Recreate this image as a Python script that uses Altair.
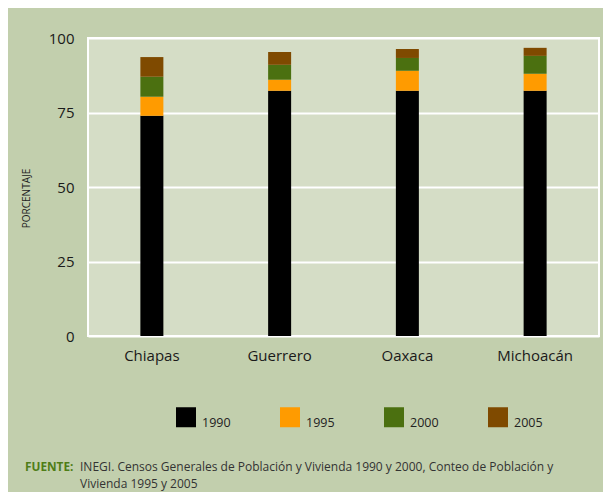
import altair as alt
import pandas as pd

states = ["Chiapas", "Guerrero", "Oaxaca", "Michoacán"]
years = ["1990", "1995", "2000", "2005"]
v1990 = [73.9, 82.3, 82.3, 82.3]
v1995 = [6.4, 3.7, 6.7, 5.7]
v2000 = [6.7, 5.0, 4.3, 6.0]
v2005 = [6.6, 4.3, 3.0, 2.7]
colors = ["#000000", "#ff9b00", "#4b7010", "#7f4a00"]

rows = []
for i, s in enumerate(states):
    for k, (y, vals) in enumerate(zip(years, [v1990, v1995, v2000, v2005])):
        rows.append({"estado": s, "anio": y, "valor": vals[i], "orden": k})
df = pd.DataFrame(rows)

FONT = "Open Sans"

bars = alt.Chart(df).mark_bar(size=23).encode(
    x=alt.X("estado:N", sort=states, title=None,
            scale=alt.Scale(paddingInner=0, paddingOuter=0),
            axis=alt.Axis(labelAngle=0, ticks=False, tickSize=0, domain=False,
                          labelPadding=12, labelFontSize=15, labelFont=FONT,
                          labelColor="#1a1a1a", grid=False)),
    y=alt.Y("valor:Q", title="PORCENTAJE", stack="zero",
            scale=alt.Scale(domain=[0, 100], nice=False),
            axis=alt.Axis(values=[0, 25, 50, 75, 100], ticks=False, tickSize=0,
                          domain=False, labelPadding=14, labelFontSize=15,
                          labelFont=FONT, labelColor="#1a1a1a",
                          grid=True, gridColor="white", gridWidth=2, gridOpacity=1,
                          titleFont=FONT, titleFontSize=10, titleFontWeight="normal",
                          titleColor="#222222", titlePadding=17, titleY=160)),
    color=alt.Color("anio:N", sort=years,
                    scale=alt.Scale(domain=years, range=colors),
                    legend=alt.Legend(title=None, orient="none", legendX=88, legendY=369,
                                      direction="horizontal", columns=4,
                                      symbolType="square", symbolSize=400,
                                      symbolStrokeWidth=0, symbolOpacity=1,
                                      labelFont=FONT, labelFontSize=12.5,
                                      labelColor="#222222", labelBaseline="top",
                                      labelOffset=6, columnPadding=49, padding=0)),
    order=alt.Order("orden:Q", sort="ascending"),
)

one = pd.DataFrame({"k": [0]})
fuente = alt.Chart(one).mark_text(
    text="FUENTE:", font=FONT, fontSize=11.8, fontWeight="bold", color="#4f7d17",
    align="left", baseline="alphabetic"
).encode(x=alt.value(-63), y=alt.value(433))
line1 = alt.Chart(one).mark_text(
    text="INEGI. Censos Generales de Población y Vivienda 1990 y 2000, Conteo de Población y",
    font=FONT, fontSize=12, color="#333333", align="left", baseline="alphabetic"
).encode(x=alt.value(-8), y=alt.value(433))
line2 = alt.Chart(one).mark_text(
    text="Vivienda 1995 y 2005",
    font=FONT, fontSize=12, color="#333333", align="left", baseline="alphabetic"
).encode(x=alt.value(-8), y=alt.value(450))

chart = alt.layer(bars, fuente, line1, line2).properties(
    width=511, height=298,
    background="#c2cfad",
    padding={"left": 80, "top": 30, "right": 4, "bottom": 156},
    autosize=alt.AutoSizeParams(type="none"),
).configure_view(
    fill="#d5ddc6", stroke="white", strokeWidth=2
)

chart.save("out.html", embed_options={"renderer": "svg", "actions": False})
